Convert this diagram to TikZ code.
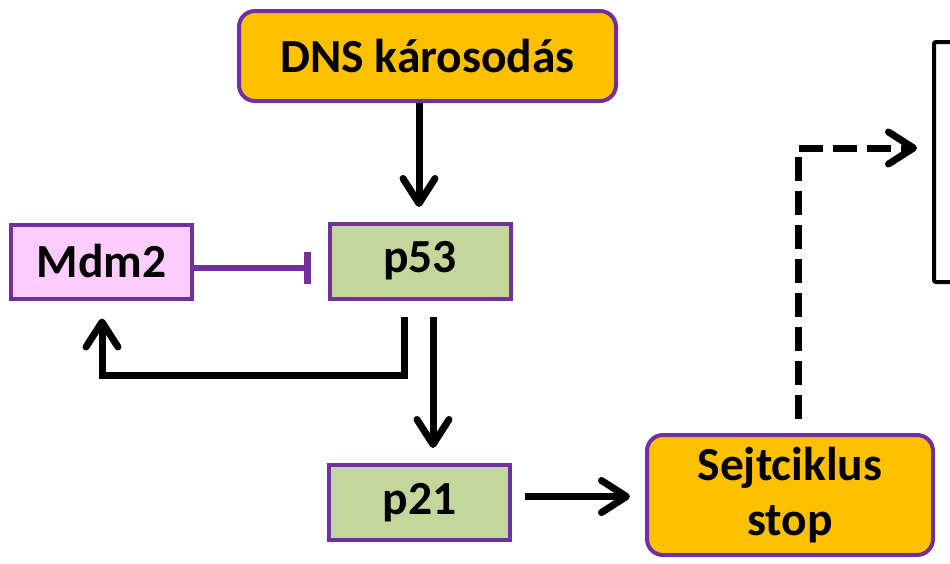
\documentclass[tikz,border=0pt]{standalone}
\usepackage{fontspec}
\setmainfont{Carlito}
\usetikzlibrary{arrows.meta,calc}

\definecolor{boxorange}{HTML}{FFC000}
\definecolor{boxpurple}{HTML}{7030A0}
\definecolor{boxgreen}{HTML}{C4D79B}
\definecolor{boxpink}{HTML}{FFCCFF}

\tikzset{
  label font/.style={font=\fontsize{47.5}{55}\selectfont\bfseries},
  basebox/.style={draw=boxpurple, line width=4pt, inner sep=0pt, label font, text=black},
  eventbox/.style={basebox, fill=boxorange, rounded corners=16pt, align=center},
  genebox/.style={basebox, fill=boxgreen, minimum width=181pt, minimum height=75pt},
  regbox/.style={basebox, fill=boxpink, minimum width=181pt, minimum height=74pt},
  arr/.style={line width=7pt, black, -{Straight Barb[length=25pt,width=32pt,round]}},
  dasharr/.style={arr, dash pattern=on 24pt off 10pt},
  inh/.style={line width=6pt, boxpurple, -{Bar[width=32pt,line width=7pt]}},
  outcome/.style={draw=black, line width=4pt, rounded corners=2pt, inner sep=0pt}
}

\begin{document}
\begin{tikzpicture}[x=1pt,y=-1pt]
  \clip (0,0) rectangle (950,563);
  \fill[white] (0,0) rectangle (950,563);

  % boxes
  \node[eventbox, minimum width=377pt, minimum height=90pt] (DNS) at (427.5,56) {DNS károsodás};
  \node[genebox] (p53) at (420,261) {p53};
  \node[regbox] (Mdm2) at (101.5,261.5) {Mdm2};
  \node[genebox] (p21) at (419.5,502.5) {p21};
  \node[eventbox, minimum width=286pt, minimum height=120pt] (Sejt) at (790,495) {Sejtciklus\\stop};
  \node[outcome, minimum width=200pt, minimum height=240pt] (Out) at (1034,162) {};

  % anchor points of the connectors
  \coordinate (dnsTip) at ($(DNS.south)+(-8.5,104)$);
  \coordinate (inhEnd) at ($(p53.west)+(-17,7)$);
  \coordinate (fbStart) at ($(p53.south)+(-16,16)$);
  \coordinate (fbLow) at ($(p53.south)+(-16,75)$);
  \coordinate (fbTip) at ($(Mdm2.south)+(0.5,18)$);
  \coordinate (p21Start) at ($(p53.south)+(13,16)$);
  \coordinate (p21Tip) at ($(p21.north)+(14,-15)$);
  \coordinate (stopStart) at ($(p21.east)+(13,-6)$);
  \coordinate (stopTip) at ($(Sejt.west)+(-15,0)$);
  \coordinate (dashStart) at ($(Sejt.north)+(8,-14)$);
  \coordinate (dashCorner) at (798,148);
  \coordinate (dashTip) at ($(Out.west)+(-15,0)$);

  % connectors
  \draw[arr] (DNS.south -| dnsTip) -- (dnsTip);
  \draw[inh] (Mdm2.east |- inhEnd) -- (inhEnd);
  \draw[arr] (fbStart) -- (fbLow) -- (fbTip |- fbLow) -- (fbTip);
  \draw[arr] (p21Start) -- (p21Start |- p21Tip);
  \draw[arr] (stopStart) -- (stopTip |- stopStart);
  \draw[dasharr] (dashStart -| dashCorner) -- (dashCorner) -- (dashTip |- dashCorner);
\end{tikzpicture}
\end{document}
